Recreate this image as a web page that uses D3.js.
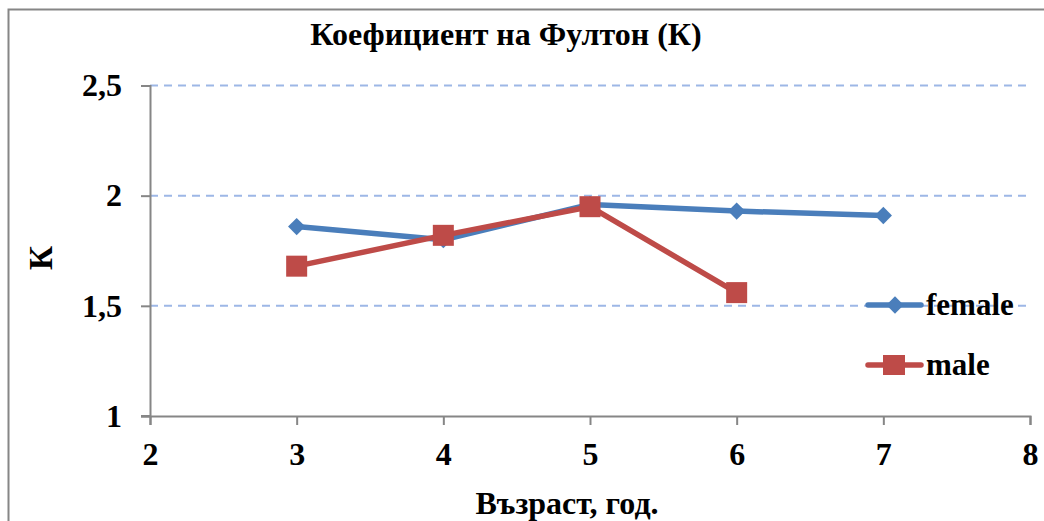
<!DOCTYPE html>
<html>
<head>
<meta charset="utf-8">
<script src="https://cdn.jsdelivr.net/npm/d3@7/dist/d3.min.js"></script>
<style>
  html, body { margin: 0; padding: 0; background: #fff; }
  svg { display: block; }
  text { font-family: "Liberation Serif", "Times New Roman", serif; font-weight: bold; fill: #000; }
</style>
</head>
<body>
<script>
// Fulton's condition factor (K) by age, per sex
const ages = [3, 4, 5, 6, 7];
const femaleK = [1.86, 1.80, 1.96, 1.93, 1.91];
const maleAges = [3, 4, 5, 6];
const maleK = [1.68, 1.82, 1.95, 1.56];
const xTicks = [2, 3, 4, 5, 6, 7, 8];
const yTicks = [1, 1.5, 2, 2.5];
const seriesNames = ["female", "male"];

const W = 1044, H = 521;
const svg = d3.select("body").append("svg").attr("width", W).attr("height", H);

// outer chart frame
svg.append("rect").attr("x", 8.5).attr("y", 9.5).attr("width", 1100).attr("height", 600)
  .attr("fill", "none").attr("stroke", "#868686").attr("stroke-width", 2);

const x = d3.scaleLinear().domain([2, 8]).range([150, 1030]);
const y = d3.scaleLinear().domain([1, 2.5]).range([416, 85.5]);

// horizontal gridlines
svg.append("g").selectAll("line").data(yTicks.filter(v => v > 1)).join("line")
  .attr("x1", x(2)).attr("x2", 1028)
  .attr("y1", d => y(d)).attr("y2", d => y(d))
  .attr("stroke", "#9DB7E6").attr("stroke-width", 2).attr("stroke-dasharray", "8,6");

// axes
const fmt = d => String(d).replace(".", ",");
const yAxis = svg.append("g").attr("transform", `translate(${x(2)},0)`)
  .call(d3.axisLeft(y).tickValues(yTicks).tickFormat(fmt).tickSize(9).tickPadding(19));
const xAxis = svg.append("g").attr("transform", `translate(0,${y(1)})`)
  .call(d3.axisBottom(x).tickValues(xTicks).tickFormat(d3.format("d")).tickSize(9).tickPadding(17));
[yAxis, xAxis].forEach(g => {
  g.select(".domain").attr("stroke", "#868686").attr("stroke-width", 2);
  g.selectAll(".tick line").attr("stroke", "#868686").attr("stroke-width", 2);
  g.selectAll(".tick text").attr("font-size", 32).attr("font-family", "Liberation Serif").attr("font-weight", "bold").attr("fill", "#000");
});
// x axis extends left to meet the y tick
svg.append("line").attr("x1", 141).attr("x2", x(2)).attr("y1", y(1)).attr("y2", y(1))
  .attr("stroke", "#868686").attr("stroke-width", 2);

// titles
svg.append("text").attr("x", 506).attr("y", 45).attr("text-anchor", "middle")
  .attr("font-size", 32).text("Коефициент на Фултон (К)");
svg.append("text").attr("x", 567).attr("y", 514).attr("text-anchor", "middle")
  .attr("font-size", 32).text("Възраст, год.");
svg.append("text").attr("transform", "translate(52,258) rotate(-90)").attr("text-anchor", "middle")
  .attr("font-size", 33).text("К");

const colors = { female: "#4A7EBB", male: "#BE4B48" };
const line = d3.line().x(d => x(d[0])).y(d => y(d[1]));
const femaleData = ages.map((a, i) => [a, femaleK[i]]);
const maleData = maleAges.map((a, i) => [a, maleK[i]]);

const diamond = d3.symbol().type(d3.symbolDiamond2).size(190);

svg.append("path").datum(femaleData).attr("d", line)
  .attr("fill", "none").attr("stroke", colors.female).attr("stroke-width", 5.5).attr("stroke-linejoin", "round");
svg.append("g").selectAll("path").data(femaleData).join("path")
  .attr("transform", d => `translate(${x(d[0])},${y(d[1])})`)
  .attr("d", diamond()).attr("fill", colors.female);

svg.append("path").datum(maleData).attr("d", line)
  .attr("fill", "none").attr("stroke", colors.male).attr("stroke-width", 5.5).attr("stroke-linejoin", "round");
svg.append("g").selectAll("rect").data(maleData).join("rect")
  .attr("x", d => x(d[0]) - 10.5).attr("y", d => y(d[1]) - 10.5)
  .attr("width", 21).attr("height", 21).attr("fill", colors.male);

// legend
const legend = svg.append("g");
seriesNames.forEach((name, i) => {
  const ly = 305 + i * 60;
  const g = legend.append("g");
  g.append("line").attr("x1", 868).attr("x2", 921).attr("y1", ly).attr("y2", ly)
    .attr("stroke", colors[name]).attr("stroke-width", 5.5).attr("stroke-linecap", "round");
  if (name === "female") {
    g.append("path").attr("transform", `translate(895,${ly})`).attr("d", diamond()).attr("fill", colors[name]);
  } else {
    g.append("rect").attr("x", 883).attr("y", ly - 10).attr("width", 22).attr("height", 20).attr("fill", colors[name]);
  }
  g.append("text").attr("x", 926).attr("y", ly + 10).attr("font-size", 31).text(name);
});
</script>
</body>
</html>
